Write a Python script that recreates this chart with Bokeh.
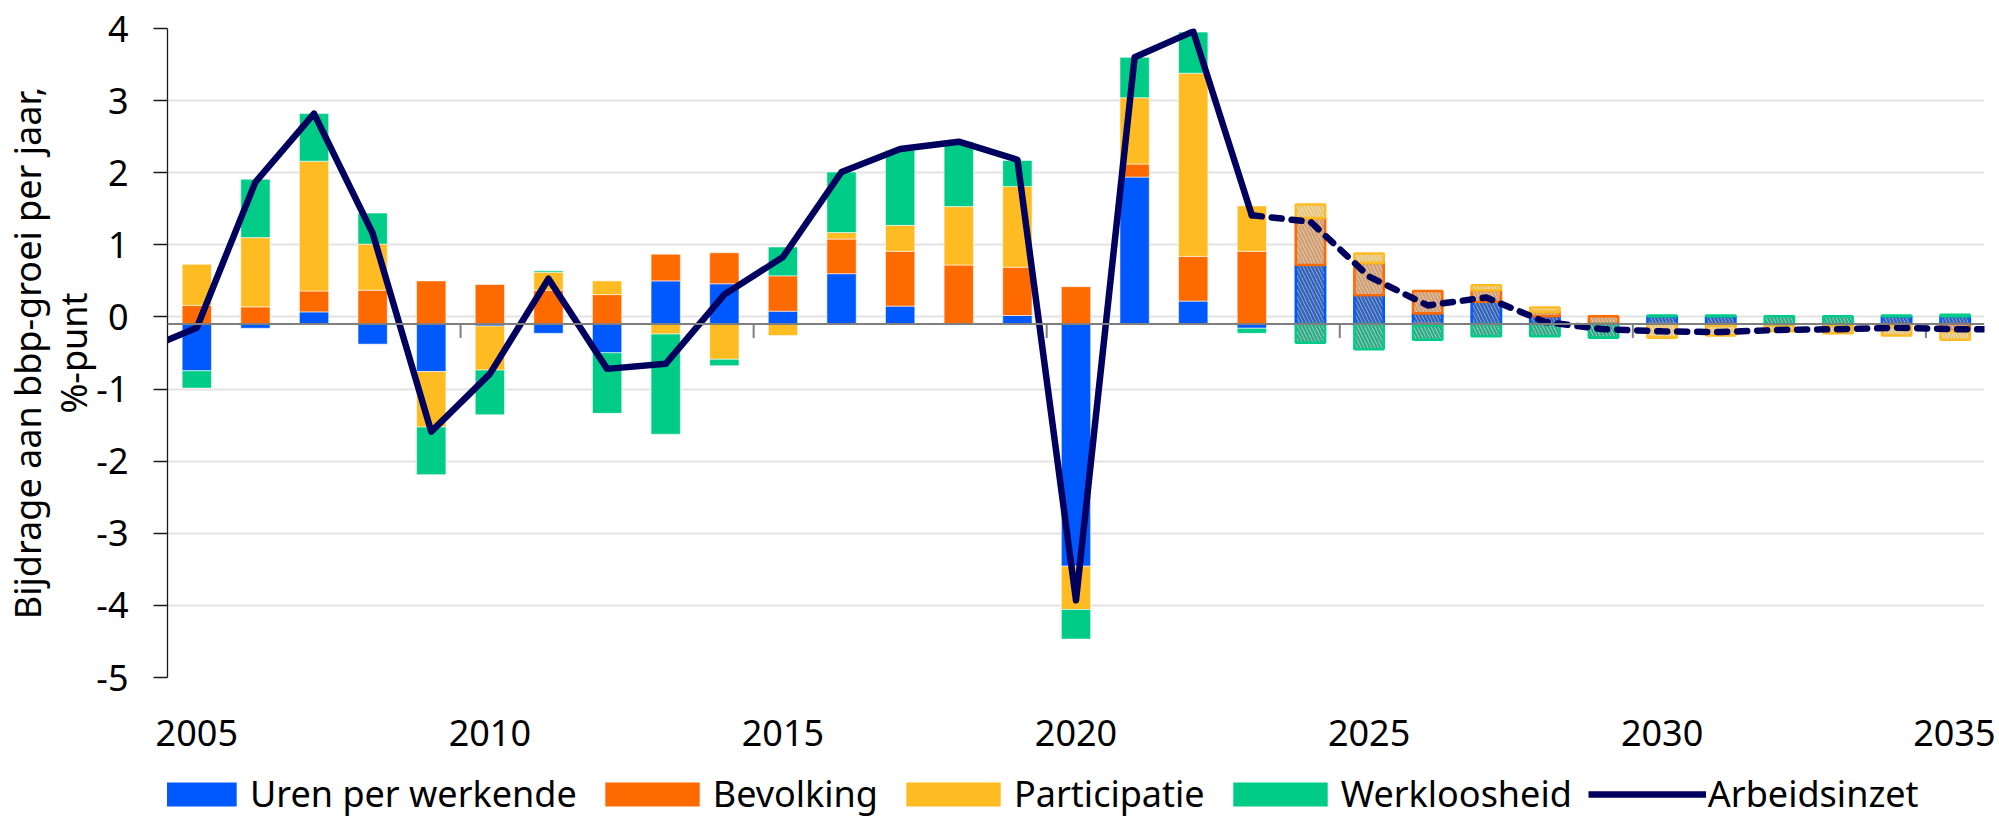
import numpy as np
from bokeh.plotting import figure
from bokeh.layouts import column
from bokeh.models import (ColumnDataSource, FixedTicker, Span, Legend,
                          LegendItem, Title)
from bokeh.embed import file_html
from bokeh.resources import INLINE

# ---------------- data ----------------
YEARS = list(range(2005, 2036))
UREN = [-0.65, -0.06, 0.07, -0.28, -0.66, -0.03, -0.13, -0.40, 0.50, 0.46,
        0.08, 0.60, 0.15, 0.00, 0.02, -3.36, 1.94, 0.22, -0.06, 0.72,
        0.30, 0.05, 0.21, 0.01, 0.00, 0.01, 0.01, 0.00, 0.00, 0.01, 0.01]
BEVOLKING = [0.16, 0.14, 0.29, 0.37, 0.50, 0.45, 0.37, 0.31, 0.37, 0.43,
             0.49, 0.48, 0.76, 0.72, 0.67, 0.42, 0.18, 0.62, 0.91, 0.65,
             0.45, 0.31, 0.16, 0.06, 0.01, 0.00, -0.02, -0.02, -0.03, -0.03, -0.10]
PARTICIPATIE = [0.57, 0.96, 1.80, 0.64, -0.77, -0.61, 0.25, 0.19, -0.14, -0.49,
                -0.16, 0.09, 0.36, 0.81, 1.12, -0.60, 0.92, 2.54, 0.63, 0.19,
                0.13, -0.02, 0.07, 0.06, 0.00, -0.19, -0.14, -0.08, -0.10, -0.13, -0.12]
WERKLOOSHEID = [-0.24, 0.81, 0.66, 0.43, -0.66, -0.62, 0.02, -0.84, -1.39, -0.09,
                0.40, 0.84, 1.04, 0.90, 0.36, -0.41, 0.56, 0.57, -0.07, -0.26,
                -0.35, -0.20, -0.17, -0.17, -0.19, 0.01, 0.01, 0.01, 0.01, 0.01, 0.02]
LINE_YEARS = list(range(2004, 2037))
ARBEIDSINZET = [-0.49, -0.15, 1.87, 2.82, 1.16, -1.59, -0.79, 0.53, -0.72, -0.65,
                0.31, 0.83, 2.01, 2.33, 2.43, 2.18, -3.93, 3.60, 3.96, 1.41,
                1.32, 0.56, 0.16, 0.27, -0.07, -0.17, -0.20, -0.21, -0.18, -0.17,
                -0.15, -0.17, -0.17]
LAST_REALISED = 2023
X_TICKS = [2005, 2010, 2015, 2020, 2025, 2030, 2035]
Y_TICKS = [-5, -4, -3, -2, -1, 0, 1, 2, 3, 4]
Y_TITLE_1 = "Bijdrage aan bbp-groei per jaar,"
Y_TITLE_2 = "%-punt"

SERIES = [
    ("Uren per werkende", UREN, "#0059FF", "#b9cdef", "#3563b8"),
    ("Bevolking", BEVOLKING, "#FF6A00", "#f4dfca", "#cf9f75"),
    ("Participatie", PARTICIPATIE, "#FFBB22", "#fbeec8", "#e6c57c"),
    ("Werkloosheid", WERKLOOSHEID, "#00CC88", "#c0eedd", "#33aa86"),
]
LINE_NAME = "Arbeidsinzet"
LINE_COLOR = "#00005F"

# ---------------- layout / style ----------------
FONT = "Noto Sans"
FS = "36px"
LEG_FS = "36px"
X_START, X_END = YEARS[0] - 0.5, YEARS[-1] + 0.5
Y_MIN, Y_MAX = -5, 4
W = 1995
H_MAIN, H_LEG = 769, 49
ML, MR, MT, MB = 167, 11, 28, 92
FRAME_H = H_MAIN - MT - MB
PX_PER_Y = FRAME_H / (Y_MAX - Y_MIN)
AXIS_CROSS = -0.097          # category axis crosses slightly below zero
BAR_W = 0.5
LINE_W = 6.5

p = figure(width=W, height=H_MAIN, x_range=(X_START, X_END), y_range=(Y_MIN, Y_MAX),
           min_border_left=ML, min_border_right=MR, min_border_top=MT,
           min_border_bottom=MB, output_backend="svg", toolbar_location=None,
           title=None)
p.outline_line_color = None
p.background_fill_color = "white"
p.border_fill_color = "white"

# axes
p.yaxis.ticker = FixedTicker(ticks=Y_TICKS)
p.yaxis.major_label_overrides = {t: str(t) for t in Y_TICKS}
p.yaxis.major_label_text_font = FONT
p.yaxis.major_label_text_font_size = FS
p.yaxis.major_label_text_color = "#000000"
p.yaxis.major_tick_out = 14
p.yaxis.major_tick_in = 0
p.yaxis.minor_tick_line_color = None
p.yaxis.major_label_standoff = 25
p.yaxis.axis_line_color = "#1a1a1a"
p.yaxis.major_tick_line_color = "#1a1a1a"
p.yaxis.axis_line_width = 1.3
p.yaxis.major_tick_line_width = 1.3

p.xaxis.ticker = FixedTicker(ticks=X_TICKS)
p.xaxis.major_label_overrides = {t: str(t) for t in X_TICKS}
p.xaxis.major_label_text_font = FONT
p.xaxis.major_label_text_font_size = FS
p.xaxis.major_label_text_color = "#000000"
p.xaxis.axis_line_color = None
p.xaxis.major_tick_line_color = None
p.xaxis.minor_tick_line_color = None
p.xaxis.major_tick_out = 0
p.xaxis.major_tick_in = 0
p.xaxis.major_label_standoff = 42

p.xgrid.grid_line_color = None
p.ygrid.ticker = FixedTicker(ticks=Y_TICKS)
p.ygrid.grid_line_color = "#e3e3e3"
p.ygrid.grid_line_width = 2

# ---------------- stacked bars ----------------
years = np.array(YEARS, dtype=float)
is_fc = years > LAST_REALISED
pos_cum = np.zeros(len(YEARS))
neg_cum = np.full(len(YEARS), AXIS_CROSS)
for name, vals, color, fc_fill, fc_hatch in SERIES:
    v = np.array(vals, dtype=float)
    pv = np.clip(v, 0, None)
    nv = np.clip(v, None, 0)
    p_bot = np.where(pos_cum > 0, pos_cum, AXIS_CROSS)
    p_top = pos_cum + pv
    n_top = neg_cum.copy()
    n_bot = neg_cum + nv
    xs, bots, tops, fcs = [], [], [], []
    for i in range(len(YEARS)):
        if pv[i] > 0:
            xs.append(years[i]); bots.append(p_bot[i]); tops.append(p_top[i]); fcs.append(is_fc[i])
        if nv[i] < 0:
            xs.append(years[i]); bots.append(n_bot[i]); tops.append(n_top[i]); fcs.append(is_fc[i])
    pos_cum = pos_cum + pv
    neg_cum = neg_cum + nv
    xs, bots, tops, fcs = map(np.array, (xs, bots, tops, fcs))
    hist = ColumnDataSource(dict(x=xs[~fcs], bottom=bots[~fcs], top=tops[~fcs]))
    fc = ColumnDataSource(dict(x=xs[fcs], bottom=bots[fcs], top=tops[fcs]))
    p.vbar(x="x", bottom="bottom", top="top", width=BAR_W, source=hist,
           fill_color=color, line_color="white", line_alpha=0.55, line_width=1)
    p.vbar(x="x", bottom="bottom", top="top", width=BAR_W, source=fc,
           fill_color=fc_fill, line_color=color, line_width=2.6,
           hatch_pattern="\\", hatch_color=fc_hatch, hatch_weight=2.6, hatch_scale=7)

# category axis line (crossing just below zero) and its tick marks
p.add_layout(Span(location=AXIS_CROSS, dimension="width", line_color="#7f7f7f",
                  line_width=2))
tick_x = [y + 0.5 for y in YEARS if (y - YEARS[0]) % 5 == 4]
tick_len = 14 / PX_PER_Y
p.segment(x0=tick_x, x1=tick_x, y0=[AXIS_CROSS] * len(tick_x),
          y1=[AXIS_CROSS - tick_len] * len(tick_x), line_color="#7f7f7f", line_width=2)

# ---------------- Arbeidsinzet line ----------------
ly = np.array(LINE_YEARS)
la = np.array(ARBEIDSINZET)
solid = ly <= LAST_REALISED
dashed = ly >= LAST_REALISED
p.line(ly[solid], la[solid], line_color=LINE_COLOR, line_width=LINE_W,
       line_join="round", line_cap="round")
p.line(ly[dashed], la[dashed], line_color=LINE_COLOR, line_width=LINE_W,
       line_dash="10 10", line_cap="round", line_join="round")

# ---------------- y title (two lines, rotated, in the left panel) ----------------
p.add_layout(Title(text=Y_TITLE_2, align="center", vertical_align="middle",
                   standoff=-11, text_font=FONT, text_font_size=FS,
                   text_font_style="normal", text_color="#000000"), "left")
p.add_layout(Title(text=Y_TITLE_1, align="center", vertical_align="middle",
                   standoff=1, text_font=FONT, text_font_size=FS,
                   text_font_style="normal", text_color="#000000"), "left")

# ---------------- legend (own strip below the chart) ----------------
lg = figure(width=W, height=H_LEG, x_range=(0, 1), y_range=(0, 1),
            x_axis_location=None, y_axis_location=None,
            min_border_left=0, min_border_right=0, min_border_top=0,
            min_border_bottom=0, output_backend="svg", toolbar_location=None,
            title=None)
lg.grid.visible = False
lg.outline_line_color = None
items = []
for name, vals, color, fc_fill, fc_hatch in SERIES:
    # zero-height placeholder glyph; it only feeds the legend swatch
    rr = lg.vbar(x=[0.5], bottom=[0.5], top=[0.5], width=0.1, fill_color=color,
                 line_color=None)
    items.append(LegendItem(label=name, renderers=[rr]))
rl = lg.line(x=[0.5, 0.5], y=[0.5, 0.5], line_color=LINE_COLOR, line_width=LINE_W)
items.append(LegendItem(label=LINE_NAME, renderers=[rl]))
legend = Legend(items=items, orientation="horizontal",
                location=(-37, 0), glyph_width=118, glyph_height=30,
                label_standoff=2, spacing=16, padding=0, margin=0,
                border_line_color=None, background_fill_alpha=0,
                label_text_font=FONT, label_text_font_size=LEG_FS,
                label_text_color="#000000")
lg.add_layout(legend, "center")

open("out.html", "w").write(file_html(column(p, lg), INLINE))
